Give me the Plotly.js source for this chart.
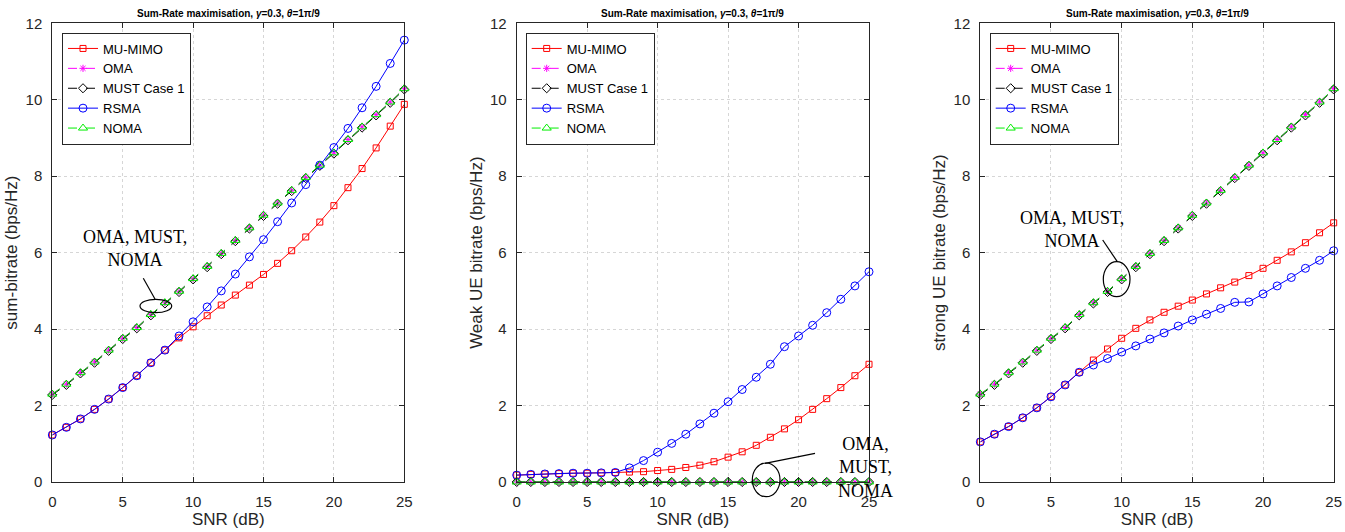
<!DOCTYPE html>
<html>
<head>
<meta charset="utf-8">
<script src="https://cdn.plot.ly/plotly-3.0.1.min.js"></script>
<style>html,body{margin:0;padding:0;background:#fff;}#chart{width:1345px;height:532px;}</style>
</head>
<body>
<div id="chart"></div>
<script>
const snr = [0,1,2,3,4,5,6,7,8,9,10,11,12,13,14,15,16,17,18,19,20,21,22,23,24,25];

const sumMUMIMO = [1.23,1.43,1.65,1.90,2.17,2.47,2.78,3.12,3.45,3.77,4.06,4.35,4.63,4.89,5.15,5.43,5.72,6.05,6.41,6.80,7.23,7.70,8.20,8.74,9.31,9.88];
const sumOMA    = [2.30,2.56,2.86,3.14,3.45,3.76,4.04,4.38,4.69,4.99,5.32,5.64,5.98,6.32,6.65,6.98,7.30,7.63,7.97,8.29,8.61,8.96,9.29,9.61,9.94,10.29];
const sumMUST   = [2.28,2.54,2.84,3.12,3.43,3.74,4.02,4.36,4.67,4.97,5.30,5.62,5.96,6.30,6.63,6.96,7.28,7.61,7.95,8.27,8.59,8.94,9.27,9.59,9.92,10.27];
const sumRSMA   = [1.23,1.43,1.65,1.90,2.17,2.47,2.78,3.12,3.45,3.82,4.19,4.58,5.00,5.44,5.89,6.34,6.81,7.30,7.78,8.29,8.75,9.25,9.79,10.35,10.95,11.56];
const sumNOMA   = [2.30,2.56,2.86,3.14,3.45,3.76,4.04,4.38,4.69,4.99,5.32,5.64,5.98,6.32,6.65,6.98,7.30,7.63,7.97,8.29,8.61,8.96,9.29,9.61,9.94,10.29];

const weakMUMIMO = [0.18,0.20,0.21,0.22,0.23,0.23,0.24,0.25,0.26,0.27,0.30,0.33,0.38,0.44,0.53,0.65,0.79,0.96,1.17,1.39,1.63,1.90,2.18,2.47,2.78,3.08];
const weakOMA    = [0,0,0,0,0,0,0,0,0,0,0,0,0,0,0,0,0,0,0,0,0,0,0,0,0,0];
const weakMUST   = [0,0,0,0,0,0,0,0,0,0,0,0,0,0,0,0,0,0,0,0,0,0,0,0,0,0];
const weakRSMA   = [0.18,0.20,0.21,0.22,0.23,0.23,0.24,0.25,0.37,0.56,0.78,1.01,1.25,1.52,1.80,2.10,2.42,2.74,3.08,3.54,3.82,4.10,4.43,4.78,5.13,5.50];
const weakNOMA   = [0,0,0,0,0,0,0,0,0,0,0,0,0,0,0,0,0,0,0,0,0,0,0,0,0,0];

const strongMUMIMO = [1.05,1.25,1.45,1.68,1.94,2.23,2.54,2.87,3.19,3.48,3.76,4.02,4.24,4.44,4.60,4.76,4.92,5.08,5.23,5.40,5.59,5.80,6.02,6.26,6.52,6.78];
const strongOMA    = [2.30,2.56,2.86,3.14,3.45,3.76,4.04,4.38,4.69,4.99,5.32,5.64,5.98,6.32,6.65,6.98,7.30,7.63,7.97,8.29,8.61,8.96,9.29,9.61,9.94,10.29];
const strongMUST   = [2.28,2.54,2.84,3.12,3.43,3.74,4.02,4.36,4.67,4.97,5.30,5.62,5.96,6.30,6.63,6.96,7.28,7.61,7.95,8.27,8.59,8.94,9.27,9.59,9.92,10.27];
const strongRSMA   = [1.05,1.25,1.45,1.68,1.94,2.23,2.54,2.87,3.06,3.23,3.40,3.56,3.74,3.90,4.08,4.24,4.39,4.54,4.70,4.71,4.92,5.13,5.35,5.59,5.80,6.05];
const strongNOMA   = [2.30,2.56,2.86,3.14,3.45,3.76,4.04,4.38,4.69,4.99,5.32,5.64,5.98,6.32,6.65,6.98,7.30,7.63,7.97,8.29,8.61,8.96,9.29,9.61,9.94,10.29];

const seriesNames = ['MU-MIMO','OMA','MUST Case 1','RSMA','NOMA'];
const yTitles = ['sum-bitrate (bps/Hz)','Weak UE bitrate (bps/Hz)','strong UE bitrate (bps/Hz)'];
const panelTitle = 'Sum-Rate maximisation, <i>γ</i>=0.3, <i>θ</i>=1π/9';
const xTicks = [0,5,10,15,20,25];
const yTicks = [0,2,4,6,8,10,12];

const panels = [
  [sumMUMIMO, sumOMA, sumMUST, sumRSMA, sumNOMA],
  [weakMUMIMO, weakOMA, weakMUST, weakRSMA, weakNOMA],
  [strongMUMIMO, strongOMA, strongMUST, strongRSMA, strongNOMA]
];

const styles = [
  {color:'#ff0000', dash:'solid', symbol:'square-open', size:6},
  {color:'#ff00ff', dash:'dash', symbol:'asterisk-open', size:6},
  {color:'#000000', dash:'dash', symbol:'diamond-open', size:7},
  {color:'#0000ff', dash:'solid', symbol:'circle-open', size:8},
  {color:'#00ee00', dash:'dash', symbol:'triangle-up-open', size:8}
];

const W = 1345, H = 532;
const px = v => v / W;
const py = v => 1 - v / H;
const xDomains = [[52.3,404.3],[516.7,869],[980.3,1333.7]];
const yDomain = [py(482), py(23.3)];

const traces = [];
panels.forEach((series, p) => {
  const sfx = p === 0 ? '' : String(p + 1);
  series.forEach((vals, i) => {
    const s = styles[i];
    traces.push({
      x: snr, y: vals, type: 'scatter', mode: 'lines+markers',
      name: seriesNames[i],
      xaxis: 'x' + sfx, yaxis: 'y' + sfx,
      legend: 'legend' + sfx,
      cliponaxis: false,
      line: {color: s.color, width: 1, dash: s.dash},
      marker: {symbol: s.symbol, size: s.size, color: s.color, line: {color: s.color, width: 1}}
    });
  });
});

const axisFont = {family: 'Liberation Sans, Arial, sans-serif', size: 15, color: '#262626'};
const layout = {
  width: W, height: H,
  margin: {l: 0, r: 0, t: 0, b: 0},
  paper_bgcolor: '#ffffff', plot_bgcolor: '#ffffff',
  font: {family: 'Liberation Sans, Arial, sans-serif', color: '#262626'},
  annotations: [], shapes: []
};

const legendX = [62, 525.7, 989.7];
for (let p = 0; p < 3; p++) {
  const sfx = p === 0 ? '' : String(p + 1);
  layout['xaxis' + sfx] = {
    domain: [px(xDomains[p][0]), px(xDomains[p][1])],
    anchor: 'y' + sfx, range: [0, 25], tickvals: xTicks, ticks: 'inside', ticklen: 5,
    tickcolor: '#262626', showline: true, linecolor: '#262626', linewidth: 1, mirror: 'ticks',
    showgrid: true, gridcolor: '#d6d6d6', griddash: 'dot', gridwidth: 1, zeroline: false,
    tickfont: axisFont, ticklabelstandoff: 6, automargin: false,
    title: {text: 'SNR (dB)', font: {family: axisFont.family, size: 17, color: '#262626'}, standoff: 4}
  };
  layout['yaxis' + sfx] = {
    domain: yDomain,
    anchor: 'x' + sfx, range: [0, 12], tickvals: yTicks, ticks: 'inside', ticklen: 5,
    tickcolor: '#262626', showline: true, linecolor: '#262626', linewidth: 1, mirror: 'ticks',
    showgrid: true, gridcolor: '#d6d6d6', griddash: 'dot', gridwidth: 1, zeroline: false,
    tickfont: axisFont, ticklabelstandoff: 6, automargin: false,
    title: {text: yTitles[p], font: {family: axisFont.family, size: 17, color: '#262626'}, standoff: 3}
  };
  layout['legend' + sfx] = {
    x: px(legendX[p]), y: py(32.5), xanchor: 'left', yanchor: 'top',
    bgcolor: '#ffffff', bordercolor: '#262626', borderwidth: 1,
    font: {family: 'Liberation Sans, Arial, sans-serif', size: 13, color: '#000000'},
    tracegroupgap: 0
  };
  layout.annotations.push({
    xref: 'paper', yref: 'paper', x: px((xDomains[p][0] + xDomains[p][1]) / 2), y: py(14),
    xanchor: 'center', yanchor: 'middle', showarrow: false,
    text: '<b>' + panelTitle + '</b>',
    font: {family: 'Liberation Sans, Arial, sans-serif', size: 10, color: '#000000'}
  });
}

const serif = {family: 'Liberation Serif, Times New Roman, serif', size: 18, color: '#000000'};
layout.annotations.push(
  {xref:'paper', yref:'paper', x: px(135), y: py(248), xanchor:'center', yanchor:'middle', showarrow:false, text:'OMA, MUST,<br>NOMA', font: serif},
  {xref:'paper', yref:'paper', x: px(865), y: py(467.5), xanchor:'center', yanchor:'middle', showarrow:false, text:'OMA,<br>MUST,<br>NOMA', font: serif},
  {xref:'paper', yref:'paper', x: px(1072), y: py(230), xanchor:'center', yanchor:'middle', showarrow:false, text:'OMA, MUST,<br>NOMA', font: serif}
);

const blk = {color:'#000000', width:1.2};
layout.shapes.push(
  {type:'line', xref:'paper', yref:'paper', x0: px(143.3), y0: py(278.3), x1: px(155), y1: py(299), line: blk},
  {type:'circle', xref:'paper', yref:'paper', x0: px(140), y0: py(299.3), x1: px(171.7), y1: py(312.7), line: blk},
  {type:'line', xref:'paper', yref:'paper', x0: px(765), y0: py(463.3), x1: px(815), y1: py(453.3), line: blk},
  {type:'circle', xref:'paper', yref:'paper', x0: px(752.3), y0: py(463), x1: px(780), y1: py(496.7), line: blk},
  {type:'line', xref:'paper', yref:'paper', x0: px(1102.7), y0: py(240), x1: px(1117.3), y1: py(261.7), line: blk},
  {type:'circle', xref:'paper', yref:'paper', x0: px(1103.3), y0: py(261.7), x1: px(1130), y1: py(296.7), line: blk}
);

Plotly.newPlot('chart', traces, layout, {displayModeBar: false, staticPlot: true});
</script>
</body>
</html>
